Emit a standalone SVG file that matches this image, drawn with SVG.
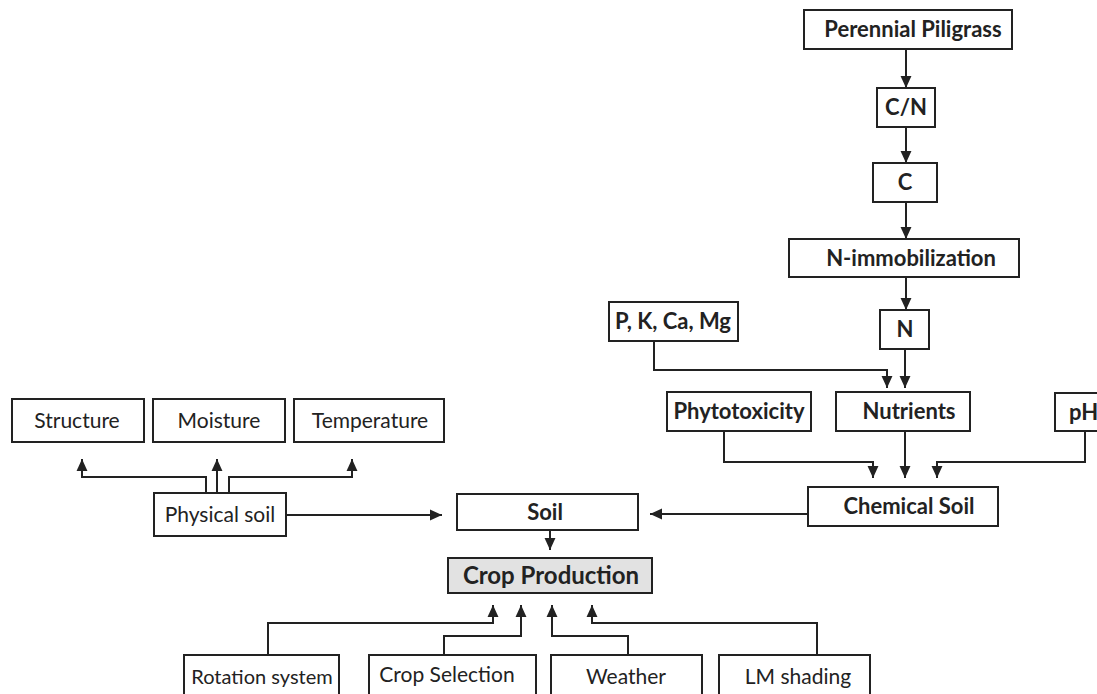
<svg xmlns="http://www.w3.org/2000/svg" width="1097" height="694" viewBox="0 0 1097 694">
<style>
.box{fill:#fff;stroke:#222;stroke-width:2}
.gray{fill:#e2e2e2;stroke:#222;stroke-width:2}
.b{font-family:Lato,"Open Sans",sans-serif;font-weight:bold;font-size:22px;fill:#222;text-anchor:middle}
.r{font-family:Lato,"Open Sans",sans-serif;font-size:21px;fill:#222;text-anchor:middle}
.big{font-size:24px}
.c{fill:none;stroke:#222;stroke-width:2;marker-end:url(#ah)}
</style>
<defs>
<marker id="ah" markerUnits="userSpaceOnUse" markerWidth="12" markerHeight="12" refX="11" refY="5" orient="auto" viewBox="0 0 11 10">
<path d="M0,0 L11,5 L0,10 z" fill="#222"/>
</marker>
</defs>
<rect width="1097" height="694" fill="#fff"/>
<g id="connectors">
<path class="c" d="M906,49 V88"/>
<path class="c" d="M906,127 V163"/>
<path class="c" d="M906,202 V239"/>
<path class="c" d="M906,277 V310"/>
<path class="c" d="M654,341 V370 H887 V388"/>
<path class="c" d="M905,349 V388"/>
<path class="c" d="M724,431 V462 H873 V478"/>
<path class="c" d="M905,431 V478"/>
<path class="c" d="M1085,431 V462 H937 V478"/>
<path class="c" d="M808,514 H650"/>
<path class="c" d="M286,515 H442"/>
<path class="c" d="M206,493 V477 H82 V459"/>
<path class="c" d="M217,493 V459"/>
<path class="c" d="M229,493 V477 H352 V459"/>
<path class="c" d="M550,530 V550"/>
<path class="c" d="M268,655 V623 H493 V605"/>
<path class="c" d="M444,655 V636 H521 V605"/>
<path class="c" d="M628,655 V636 H552 V605"/>
<path class="c" d="M817,655 V623 H592 V605"/>
</g>
<g id="perennial"><rect class="box" x="804" y="10" width="208" height="39"/><text class="b" x="913" y="37">Perennial Piligrass</text></g>
<g id="cn"><rect class="box" x="877" y="88" width="58" height="39"/><text class="b" x="906" y="115">C/N</text></g>
<g id="c"><rect class="box" x="873" y="163" width="64" height="39"/><text class="b" x="905" y="190">C</text></g>
<g id="nimmob"><rect class="box" x="789" y="239" width="230" height="38"/><text class="b" x="911" y="266">N-immobilization</text></g>
<g id="n"><rect class="box" x="880" y="310" width="49" height="39"/><text class="b" x="905" y="337">N</text></g>
<g id="pkcamg"><rect class="box" x="609" y="302" width="129" height="39"/><text class="b" x="673" y="329">P, K, Ca, Mg</text></g>
<g id="phyto"><rect class="box" x="667" y="392" width="144" height="39"/><text class="b" x="739" y="419">Phytotoxicity</text></g>
<g id="nutrients"><rect class="box" x="836" y="392" width="134" height="39"/><text class="b" x="909" y="419">Nutrients</text></g>
<g id="ph"><rect class="box" x="1055" y="393" width="50" height="38"/><text class="b" x="1069" y="420" style="text-anchor:start">pH</text></g>
<g id="chemsoil"><rect class="box" x="808" y="487" width="190" height="39"/><text class="b" x="909" y="514">Chemical Soil</text></g>
<g id="soil"><rect class="box" x="457" y="494" width="181" height="36"/><text class="b" x="545" y="520">Soil</text></g>
<g id="crop"><rect class="gray" x="448" y="558" width="204" height="35"/><text class="b big" x="551" y="584">Crop Production</text></g>
<g id="structure"><rect class="box" x="12" y="399" width="132" height="43"/><text class="r" x="77" y="428">Structure</text></g>
<g id="moisture"><rect class="box" x="153" y="399" width="132" height="43"/><text class="r" x="219" y="428">Moisture</text></g>
<g id="temperature"><rect class="box" x="294" y="399" width="150" height="43"/><text class="r" x="370" y="428">Temperature</text></g>
<g id="physsoil"><rect class="box" x="154" y="493" width="132" height="43"/><text class="r" x="220" y="522">Physical soil</text></g>
<g id="rotation"><rect class="box" x="184" y="655" width="155" height="45"/><text class="r" x="262" y="684" style="font-size:20px">Rotation system</text></g>
<g id="cropsel"><rect class="box" x="369" y="655" width="167" height="45"/><text class="r" x="447" y="682">Crop Selection</text></g>
<g id="weather"><rect class="box" x="551" y="655" width="151" height="45"/><text class="r" x="626" y="684">Weather</text></g>
<g id="lmshading"><rect class="box" x="719" y="655" width="151" height="45"/><text class="r" x="798" y="684">LM shading</text></g>
</svg>
